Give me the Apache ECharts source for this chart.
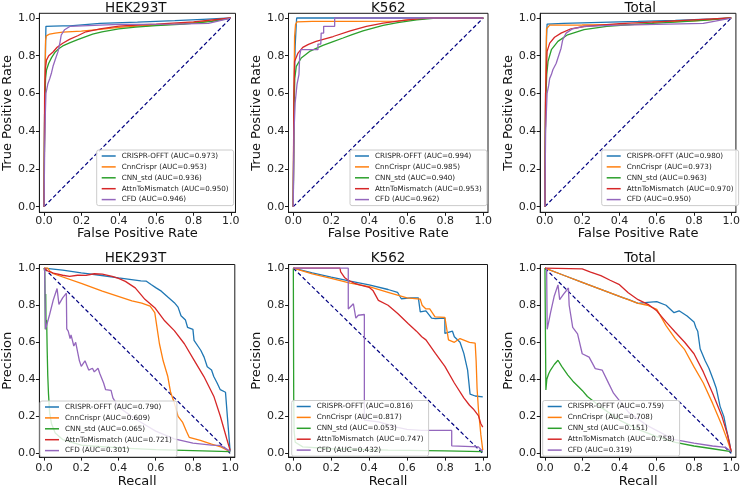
<!DOCTYPE html>
<html><head><meta charset="utf-8">
<script src="https://cdn.jsdelivr.net/npm/echarts@6/dist/echarts.min.js"></script>
<style>html,body{margin:0;padding:0;background:#fff}#c{width:743px;height:489px}</style>
</head><body><div id="c"></div>
<script>
// ---------- DATA ----------
const methods = ['CRISPR-OFFT', 'CnnCrispr', 'CNN_std', 'AttnToMismatch', 'CFD'];
const panelTitles = ['HEK293T', 'K562', 'Total', 'HEK293T', 'K562', 'Total'];
const tickValues = [0, 0.2, 0.4, 0.6, 0.8, 1.0];

const hekRocAuc = ['0.973', '0.953', '0.936', '0.950', '0.946'];
const k562RocAuc = ['0.994', '0.985', '0.940', '0.953', '0.962'];
const totRocAuc = ['0.980', '0.973', '0.963', '0.970', '0.950'];
const hekPrAuc = ['0.790', '0.609', '0.065', '0.721', '0.301'];
const k562PrAuc = ['0.816', '0.817', '0.053', '0.747', '0.432'];
const totPrAuc = ['0.759', '0.708', '0.151', '0.758', '0.319'];

const rocDiag = [[0, 0], [1, 1]];
const prDiag = [[0, 1], [1, 0]];

// HEK293T ROC
const hekRocOfft = [[0,0],[0.003,0.5],[0.008,0.85],[0.01,0.956],[0.05,0.957],[0.1,0.958],[0.138,0.958],[0.14,0.968],[0.3,0.972],[0.5,0.978],[0.7,0.986],[0.85,0.993],[1,1]];
const hekRocCnn = [[0,0],[0.004,0.6],[0.008,0.88],[0.012,0.905],[0.03,0.915],[0.06,0.92],[0.1,0.925],[0.2,0.93],[0.3,0.94],[0.4,0.95],[0.5,0.957],[0.6,0.962],[0.7,0.968],[0.8,0.975],[0.9,0.985],[1,1]];
const hekRocStd = [[0,0],[0.003,0.5],[0.008,0.68],[0.013,0.724],[0.025,0.76],[0.04,0.79],[0.06,0.82],[0.08,0.838],[0.1,0.852],[0.14,0.87],[0.18,0.885],[0.22,0.9],[0.26,0.914],[0.31,0.927],[0.4,0.942],[0.49,0.952],[0.6,0.96],[0.75,0.968],[0.9,0.982],[1,1]];
const hekRocAttn = [[0,0],[0.003,0.6],[0.008,0.74],[0.013,0.777],[0.025,0.8],[0.048,0.82],[0.07,0.845],[0.1,0.866],[0.136,0.887],[0.18,0.906],[0.224,0.927],[0.3,0.942],[0.4,0.957],[0.5,0.963],[0.6,0.968],[0.8,0.98],[1,1]];
const hekRocCfd = [[0,0],[0.003,0.3],[0.007,0.5],[0.01,0.6],[0.02,0.65],[0.031,0.68],[0.04,0.71],[0.048,0.744],[0.06,0.78],[0.075,0.823],[0.085,0.87],[0.092,0.91],[0.11,0.938],[0.14,0.956],[0.142,0.965],[0.4,0.966],[0.7,0.968],[0.88,0.972],[1,1]];

// K562 ROC
const k562RocOfft = [[0,0],[0.004,0.6],[0.01,0.85],[0.016,0.97],[0.018,1.0],[1,1]];
const k562RocCnn = [[0,0],[0.003,0.5],[0.007,0.9],[0.012,0.965],[0.02,0.98],[0.1,0.982],[0.3,0.982],[0.55,0.984],[0.6,0.99],[0.7,0.998],[1,1]];
const k562RocStd = [[0,0],[0.004,0.5],[0.008,0.68],[0.016,0.744],[0.042,0.788],[0.086,0.823],[0.156,0.855],[0.21,0.875],[0.262,0.894],[0.31,0.912],[0.367,0.932],[0.42,0.947],[0.473,0.961],[0.55,0.975],[0.65,0.99],[0.75,1.0],[1,1]];
const k562RocAttn = [[0,0],[0.003,0.55],[0.007,0.77],[0.025,0.814],[0.05,0.844],[0.08,0.86],[0.12,0.876],[0.21,0.902],[0.3,0.932],[0.385,0.956],[0.473,0.973],[0.55,0.983],[0.65,0.995],[0.72,1],[1,1]];
const k562RocCfd = [[0,0],[0.004,0.4],[0.01,0.55],[0.015,0.6],[0.02,0.65],[0.03,0.7],[0.034,0.8],[0.04,0.832],[0.13,0.832],[0.13,0.862],[0.145,0.862],[0.147,0.92],[0.16,0.92],[0.16,0.956],[0.218,0.956],[0.218,1.0],[1,1]];

// Total ROC
const totRocOfft = [[0,0],[0.004,0.6],[0.009,0.9],[0.012,0.968],[0.1,0.972],[0.3,0.977],[0.5,0.982],[0.7,0.988],[0.9,0.995],[1,1]];
const totRocCnn = [[0,0],[0.004,0.6],[0.009,0.943],[0.026,0.962],[0.2,0.963],[0.4,0.965],[0.58,0.966],[0.58,0.978],[0.8,0.985],[1,1]];
const totRocStd = [[0,0],[0.004,0.55],[0.01,0.7],[0.017,0.77],[0.035,0.832],[0.07,0.876],[0.122,0.911],[0.21,0.938],[0.332,0.956],[0.5,0.968],[0.7,0.978],[0.85,0.988],[1,1]];
const totRocAttn = [[0,0],[0.004,0.6],[0.012,0.823],[0.026,0.867],[0.052,0.898],[0.087,0.92],[0.14,0.943],[0.21,0.955],[0.4,0.97],[0.6,0.98],[0.8,0.99],[1,1]];
const totRocCfd = [[0,0],[0.004,0.4],[0.012,0.6],[0.02,0.64],[0.026,0.68],[0.035,0.7],[0.043,0.726],[0.061,0.76],[0.07,0.788],[0.087,0.84],[0.096,0.885],[0.114,0.92],[0.149,0.943],[0.21,0.956],[0.4,0.962],[0.6,0.966],[0.85,0.972],[1,1]];

// HEK293T PR
const hekPrOfft = [[0,1],[0.1,0.99],[0.2,0.975],[0.3,0.962],[0.4,0.948],[0.52,0.932],[0.55,0.93],[0.577,0.911],[0.6,0.895],[0.63,0.876],[0.665,0.844],[0.7,0.814],[0.72,0.79],[0.736,0.743],[0.76,0.72],[0.771,0.681],[0.8,0.67],[0.806,0.61],[0.842,0.557],[0.86,0.52],[0.877,0.468],[0.9,0.45],[0.912,0.415],[0.93,0.38],[0.947,0.344],[0.975,0.33],[0.985,0.2],[1.0,0.01]];
const hekPrCnn = [[0,1],[0.02,1.0],[0.03,0.985],[0.05,0.97],[0.2,0.918],[0.313,0.876],[0.472,0.823],[0.525,0.812],[0.57,0.795],[0.595,0.76],[0.62,0.592],[0.64,0.5],[0.665,0.415],[0.68,0.33],[0.70,0.273],[0.72,0.2],[0.745,0.167],[0.765,0.12],[0.78,0.087],[0.84,0.07],[0.9,0.05],[0.95,0.035],[1.0,0.01]];
const hekPrStd = [[0,1],[0.004,0.98],[0.007,0.67],[0.009,0.86],[0.011,0.67],[0.014,0.72],[0.017,0.55],[0.02,0.42],[0.024,0.32],[0.03,0.22],[0.04,0.16],[0.06,0.11],[0.1,0.075],[0.2,0.045],[0.4,0.03],[0.6,0.02],[0.8,0.015],[1.0,0.01]];
const hekPrAttn = [[0,1],[0.02,0.985],[0.05,0.973],[0.1,0.962],[0.137,0.956],[0.18,0.962],[0.225,0.961],[0.27,0.97],[0.313,0.968],[0.366,0.956],[0.4,0.945],[0.437,0.929],[0.49,0.894],[0.542,0.832],[0.595,0.787],[0.648,0.716],[0.70,0.663],[0.754,0.592],[0.806,0.504],[0.859,0.415],[0.912,0.309],[0.947,0.202],[0.982,0.078],[1.0,0.016]];
const hekPrCfd = [[0.003,1.0],[0.008,0.67],[0.014,0.68],[0.03,0.75],[0.05,0.83],[0.07,0.89],[0.076,0.894],[0.08,0.805],[0.1,0.84],[0.12,0.865],[0.122,0.672],[0.13,0.66],[0.14,0.62],[0.145,0.64],[0.16,0.58],[0.17,0.6],[0.19,0.5],[0.2,0.47],[0.22,0.5],[0.24,0.45],[0.26,0.46],[0.27,0.44],[0.29,0.46],[0.3,0.43],[0.32,0.38],[0.331,0.344],[0.36,0.34],[0.37,0.3],[0.4,0.25],[0.5,0.18],[0.6,0.12],[0.7,0.078],[0.8,0.055],[0.9,0.045],[0.947,0.043],[1.0,0.012]];

// K562 PR
const k562PrOfft = [[0,1],[0.1,0.975],[0.2,0.952],[0.3,0.93],[0.4,0.91],[0.5,0.885],[0.55,0.87],[0.57,0.835],[0.62,0.84],[0.66,0.84],[0.67,0.764],[0.7,0.77],[0.73,0.73],[0.75,0.728],[0.8,0.73],[0.8,0.648],[0.84,0.66],[0.85,0.63],[0.88,0.6],[0.9,0.54],[0.92,0.45],[0.925,0.4],[0.933,0.32],[0.96,0.31],[1.0,0.305]];
const k562PrCnn = [[0,1],[0.1,0.97],[0.2,0.945],[0.3,0.92],[0.4,0.9],[0.5,0.87],[0.6,0.84],[0.67,0.833],[0.68,0.8],[0.7,0.78],[0.72,0.78],[0.748,0.737],[0.8,0.735],[0.819,0.613],[0.85,0.6],[0.88,0.62],[0.93,0.6],[0.96,0.595],[0.965,0.5],[0.97,0.35],[0.977,0.24],[0.99,0.1],[1.0,0.018]];
const k562PrStd = [[0,1],[0.001,0.6],[0.002,0.3],[0.004,0.12],[0.01,0.06],[0.05,0.035],[0.2,0.025],[0.5,0.018],[0.8,0.014],[1.0,0.01]];
const k562PrAttn = [[0,1],[0.246,1.0],[0.25,0.98],[0.27,0.95],[0.29,0.935],[0.32,0.92],[0.35,0.91],[0.4,0.897],[0.42,0.88],[0.449,0.826],[0.5,0.8],[0.551,0.755],[0.607,0.70],[0.65,0.66],[0.678,0.63],[0.7,0.613],[0.75,0.54],[0.8,0.47],[0.85,0.38],[0.9,0.3],[0.93,0.26],[0.95,0.24],[0.977,0.204],[0.99,0.16],[1.0,0.142]];
const k562PrCfd = [[0,1],[0.29,1.0],[0.29,0.78],[0.317,0.808],[0.33,0.73],[0.343,0.746],[0.375,0.75],[0.375,0.18],[0.45,0.17],[0.55,0.14],[0.6,0.13],[0.678,0.124],[0.836,0.124],[0.836,0.041],[0.977,0.035],[1.0,0.01]];

// Total PR
const totPrOfft = [[0,1],[0.1,0.962],[0.2,0.924],[0.3,0.886],[0.421,0.84],[0.45,0.83],[0.5,0.81],[0.55,0.815],[0.6,0.82],[0.65,0.8],[0.693,0.76],[0.72,0.77],[0.763,0.742],[0.8,0.71],[0.81,0.68],[0.82,0.66],[0.833,0.565],[0.86,0.5],[0.88,0.46],[0.904,0.396],[0.92,0.35],[0.94,0.254],[0.96,0.2],[0.974,0.13],[0.99,0.06],[1.0,0.005]];
const totPrCnn = [[0,1],[0.1,0.962],[0.2,0.924],[0.3,0.886],[0.4,0.848],[0.5,0.81],[0.55,0.8],[0.6,0.778],[0.65,0.69],[0.7,0.618],[0.75,0.56],[0.8,0.467],[0.85,0.38],[0.9,0.27],[0.95,0.15],[0.98,0.07],[1.0,0.01]];
const totPrStd = [[0,1],[0.003,0.6],[0.005,0.343],[0.01,0.4],[0.02,0.43],[0.03,0.45],[0.05,0.48],[0.07,0.503],[0.09,0.47],[0.1,0.46],[0.123,0.423],[0.15,0.39],[0.18,0.36],[0.2,0.34],[0.228,0.307],[0.25,0.29],[0.3,0.25],[0.4,0.18],[0.5,0.13],[0.6,0.09],[0.7,0.06],[0.8,0.04],[0.9,0.025],[1.0,0.01]];
const totPrAttn = [[0,1],[0.2,0.996],[0.245,0.979],[0.3,0.96],[0.35,0.935],[0.4,0.911],[0.447,0.867],[0.5,0.83],[0.553,0.805],[0.6,0.77],[0.65,0.71],[0.7,0.654],[0.75,0.6],[0.8,0.538],[0.85,0.44],[0.9,0.325],[0.95,0.2],[0.98,0.1],[1.0,0.01]];
const totPrCfd = [[0.009,1.0],[0.012,0.67],[0.03,0.76],[0.05,0.85],[0.07,0.91],[0.079,0.83],[0.1,0.86],[0.126,0.893],[0.13,0.80],[0.149,0.68],[0.175,0.645],[0.2,0.538],[0.237,0.52],[0.27,0.458],[0.307,0.45],[0.342,0.378],[0.368,0.325],[0.45,0.22],[0.55,0.15],[0.69,0.076],[0.8,0.055],[0.9,0.04],[0.97,0.032],[1.0,0.01]];

// ---------- BUILD ----------
const panelCurves = [
  [hekRocOfft, hekRocCnn, hekRocStd, hekRocAttn, hekRocCfd],
  [k562RocOfft, k562RocCnn, k562RocStd, k562RocAttn, k562RocCfd],
  [totRocOfft, totRocCnn, totRocStd, totRocAttn, totRocCfd],
  [hekPrOfft, hekPrCnn, hekPrStd, hekPrAttn, hekPrCfd],
  [k562PrOfft, k562PrCnn, k562PrStd, k562PrAttn, k562PrCfd],
  [totPrOfft, totPrCnn, totPrStd, totPrAttn, totPrCfd]
];
const panelAucs = [hekRocAuc, k562RocAuc, totRocAuc, hekPrAuc, k562PrAuc, totPrAuc];
const panelDiag = [rocDiag, rocDiag, rocDiag, prDiag, prDiag, prDiag];

const colors = ['#1f77b4', '#ff7f0e', '#2ca02c', '#d62728', '#9467bd'];
const FONT = '"DejaVu Sans", sans-serif';

const layouts = [
  {left: 36,    top: 13.3,  width: 199.5, height: 199,   ymin: -0.03, ymax: 1.025, lblM: 3, xGap: 11.5, titleY: 8.5,   lgL: 96.7,  lgT: 150, xName: 'False Positive Rate', yName: 'True Positive Rate'},
  {left: 288.5, top: 13.3,  width: 199.5, height: 199,   ymin: -0.03, ymax: 1.025, lblM: 3, xGap: 11.5, titleY: 8.5,   lgL: 350,   lgT: 150, xName: 'False Positive Rate', yName: 'True Positive Rate'},
  {left: 540.2, top: 13.3,  width: 200.2, height: 199,   ymin: -0.03, ymax: 1.025, lblM: 3, xGap: 11.5, titleY: 8.5,   lgL: 601.7, lgT: 150, xName: 'False Positive Rate', yName: 'True Positive Rate'},
  {left: 36,    top: 264.5, width: 198.8, height: 195.5, ymin: -0.02, ymax: 1.02,  lblM: 6, xGap: 16,   titleY: 258,   lgL: 40,    lgT: 401, xName: 'Recall', yName: 'Precision'},
  {left: 288.6, top: 264.5, width: 198.9, height: 195.5, ymin: -0.02, ymax: 1.02,  lblM: 6, xGap: 16,   titleY: 258,   lgL: 291.7, lgT: 400.5, xName: 'Recall', yName: 'Precision'},
  {left: 540.3, top: 264.5, width: 199.5, height: 195.5, ymin: -0.02, ymax: 1.02,  lblM: 6, xGap: 16,   titleY: 258,   lgL: 542.7, lgT: 400.5, xName: 'Recall', yName: 'Precision'}
];

const grid = [], xAxis = [], yAxis = [], series = [], legend = [], graphic = [];
const fmt = v => v.toFixed(1);

layouts.forEach((L, i) => {
  grid.push({left: L.left, top: L.top, width: L.width, height: L.height, show: true,
    borderColor: '#1a1a1a', borderWidth: 1, backgroundColor: '#fff', containLabel: false});
  const axisCommon = {
    type: 'value', gridIndex: i, splitLine: {show: false},
    axisLine: {show: true, onZero: false, lineStyle: {color: '#1a1a1a', width: 1}},
    axisTick: {show: true, inside: false, length: 3.5, customValues: tickValues, lineStyle: {color: '#1a1a1a', width: 1}},
    nameLocation: 'middle',
    nameTextStyle: {fontSize: 13, fontFamily: FONT, color: '#111'}
  };
  xAxis.push(Object.assign({}, axisCommon, {
    min: -0.025, max: 1.025, name: L.xName, nameGap: L.xGap,
    axisLabel: {customValues: tickValues, formatter: fmt, fontSize: 11, fontFamily: FONT, color: '#222', margin: L.lblM}
  }));
  yAxis.push(Object.assign({}, axisCommon, {
    min: L.ymin, max: L.ymax, name: L.yName, nameGap: 22,
    axisLabel: {customValues: tickValues, formatter: fmt, fontSize: 11, fontFamily: FONT, color: '#222', margin: 4}
  }));
  series.push({type: 'line', xAxisIndex: i, yAxisIndex: i, data: panelDiag[i], symbol: 'none', silent: true,
    lineStyle: {color: '#000080', width: 1.2, type: [4, 2.5]}, z: 2});
  const names = [];
  panelCurves[i].forEach((d, k) => {
    const nm = methods[k] + ' (AUC=' + panelAucs[i][k] + ')';
    names.push(nm);
    series.push({type: 'line', name: nm, xAxisIndex: i, yAxisIndex: i, data: d, symbol: 'none',
      showSymbol: false, color: colors[k], lineStyle: {color: colors[k], width: 1.3}, z: 2});
  });
  legend.push({
    z: 20, zlevel: 0,
    left: L.lgL, top: L.lgT, orient: 'vertical', data: names, selectedMode: false,
    icon: 'rect', itemWidth: 14, itemHeight: 1.5, itemGap: 1.9,
    padding: [1.5, 5, 1.5, 5],
    backgroundColor: 'rgba(255,255,255,0.82)', borderColor: '#cccccc', borderWidth: 1, borderRadius: 2,
    textStyle: {fontSize: 7.2, lineHeight: 9, fontFamily: FONT, color: '#222', padding: [0, 0, 0, 1]}
  });
  graphic.push({type: 'text', x: L.left + L.width / 2, y: L.titleY, silent: true,
    style: {text: panelTitles[i], fontSize: 13.5, fontFamily: FONT, fill: '#111',
      align: 'center', verticalAlign: 'middle', textAlign: 'center', textVerticalAlign: 'middle'}});
});

const chart = echarts.init(document.getElementById('c'), null, {renderer: 'canvas'});
chart.setOption({
  animation: false,
  backgroundColor: '#ffffff',
  textStyle: {fontFamily: FONT},
  grid, xAxis, yAxis, series, legend, graphic
});
</script></body></html>
